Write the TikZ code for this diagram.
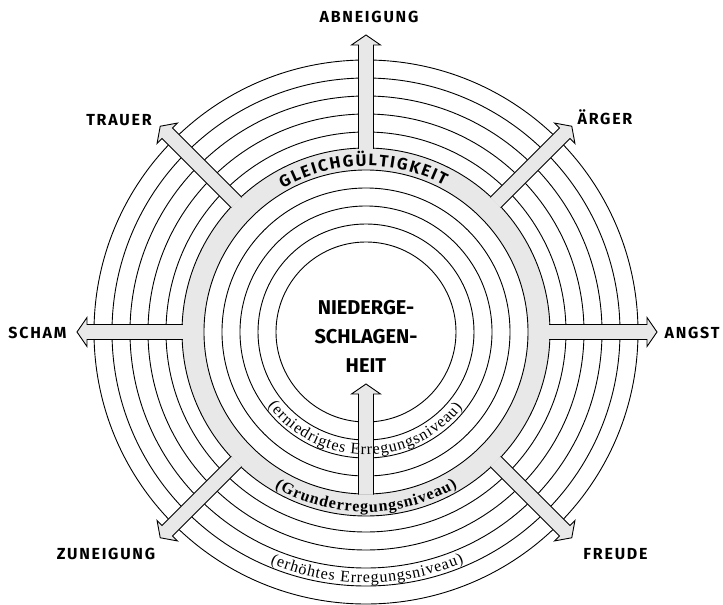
\documentclass[tikz,border=0pt]{standalone}
\usepackage{fontspec}
\setmainfont{Liberation Serif}
\setsansfont{Fira Sans}
\usetikzlibrary{decorations.text}
\definecolor{ringgray}{HTML}{E8E8E8}
\newcommand\radarrow[3]{%
  \begin{scope}[rotate=#1]
    \path[arrowshape] (#2,-7.5) -- ({#3-10},-7.5) -- ({#3-10},-14.5) -- (#3,0)
      -- ({#3-10},14.5) -- ({#3-10},7.5) -- (#2,7.5);
  \end{scope}}
\begin{document}
\begin{tikzpicture}[x=1pt,y=1pt,
  circ/.style={draw=black, line width=0.9pt},
  arrowshape/.style={fill=ringgray, draw=black, line width=0.9pt, line join=miter},
  outlabel/.style={font=\sffamily\bfseries\fontsize{16}{18}\selectfont\addfontfeatures{LetterSpace=11}, anchor=base, inner sep=0pt},
  curvetext/.style={decorate, decoration={text along path, text align={fit to path}, text={#1}}}
]
\useasboundingbox (-366,-273) rectangle (357,332);

% outer circles
\foreach \r in {272,254,236,218,200} \draw[circ] (0,0) circle (\r);
% grey ring
\fill[ringgray, even odd rule] (0,0) circle (184) (0,0) circle (162);
\draw[circ] (0,0) circle (184);
\draw[circ] (0,0) circle (162);
% inner circles
\foreach \r in {144,126,108} \draw[circ] (0,0) circle (\r);
\node[circle, draw=black, line width=0.9pt, minimum size=180pt, inner sep=0pt] (core) at (0,0) {};

% arrows
\radarrow{90}{183}{297}
\radarrow{0}{183}{291}
\radarrow{180}{183}{289}
\radarrow{45}{183}{291}
\radarrow{135}{183}{291}
\radarrow{225}{183}{291}
\radarrow{315}{183}{291}
\radarrow{90}{-162.5}{-52}

% centre text
\node[font=\sffamily\bfseries\fontsize{20}{29}\selectfont, align=center] (ctext) at (0,-4) {NIEDERGE-\\SCHLAGEN-\\HEIT};

% outer labels
\node[outlabel] (abneigung) at (3,309) {ABNEIGUNG};
\node[outlabel] (aerger) at (239,207) {ÄRGER};
\node[outlabel] (trauer) at (-247,206) {TRAUER};
\node[outlabel] (scham) at (-328.5,-7) {SCHAM};
\node[outlabel] (angst) at (326,-7) {ANGST};
\node[outlabel] (zuneigung) at (-260,-227) {ZUNEIGUNG};
\node[outlabel] (freude) at (249.5,-227) {FREUDE};

% curved labels
\path[curvetext={|\sffamily\bfseries\fontsize{16.5}{16.5}\selectfont|GLEICHGÜLTIGKEIT}]
  (120:166) arc[start angle=120, end angle=62, radius=166];
\path[curvetext={|\bfseries\fontsize{16}{16}\selectfont|(Grunderregungsniveau)}]
  (239.5:180) arc[start angle=239.5, end angle=300.5, radius=180];
\path[curvetext={|\fontsize{16}{16}\selectfont|(erniedrigtes Erregungsniveau)}]
  (217:122.5) arc[start angle=217, end angle=322, radius=122.5];
\path[curvetext={|\fontsize{16}{16}\selectfont|(erhöhtes Erregungsniveau)}]
  (247.5:250.5) arc[start angle=247.5, end angle=293, radius=250.5];
\end{tikzpicture}
\end{document}
